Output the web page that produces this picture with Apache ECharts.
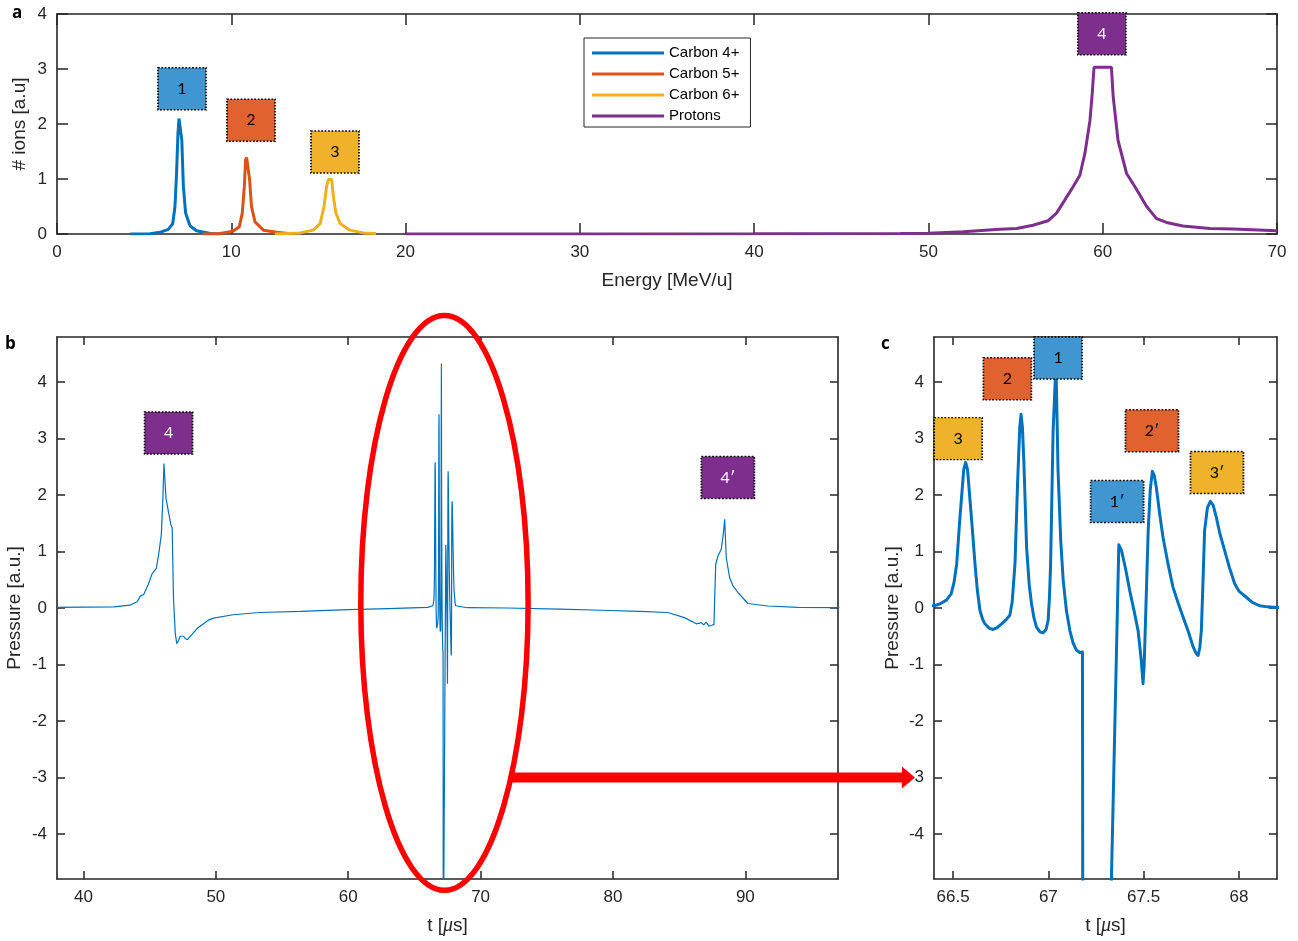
<!DOCTYPE html>
<html><head><meta charset="utf-8">
<script src="https://cdn.jsdelivr.net/npm/echarts@6/dist/echarts.min.js"></script>
<style>html,body{margin:0;padding:0;background:#fff}#c{width:1298px;height:941px}</style>
</head><body><div id="c"></div>
<script>
// ---------- Panel a: ion spectra ----------
const c4Energy = [4.2, 5.35, 5.9, 6.39, 6.64, 6.77, 6.86, 6.94, 7.0, 7.1, 7.16, 7.25, 7.38, 7.63, 8.0, 8.8, 9.4];
const c4Counts = [0, 0.006, 0.03, 0.085, 0.19, 0.5, 1.1, 1.83, 2.1, 2.1, 1.71, 0.87, 0.38, 0.15, 0.06, 0.01, 0];
const c5Energy = [8.36, 9.35, 10.1, 10.46, 10.63, 10.75, 10.82, 10.88, 10.99, 11.05, 11.16, 11.36, 11.84, 12.6, 13.27];
const c5Counts = [0, 0.01, 0.05, 0.13, 0.38, 0.87, 1.35, 1.39, 1.38, 0.99, 0.5, 0.22, 0.07, 0.03, 0.01];
const c6Energy = [12.5, 13.94, 14.7, 15.1, 15.32, 15.47, 15.57, 15.76, 15.86, 16.0, 16.25, 16.8, 17.6, 18.3];
const c6Counts = [0, 0.02, 0.07, 0.19, 0.5, 0.87, 0.99, 0.99, 0.68, 0.38, 0.19, 0.07, 0.02, 0.01];
const pEnergy = [20, 30, 40, 48.4, 50, 52, 54.1, 55.06, 56.0, 56.86, 57.35, 57.83, 58.3, 58.69, 58.98, 59.27, 59.4, 59.5, 60.5, 60.6, 60.88, 61.37, 61.85, 62.52, 63.09, 63.66, 64.6, 66.15, 67.5, 70];
const pCounts = [0, 0.002, 0.005, 0.01, 0.015, 0.04, 0.085, 0.1, 0.16, 0.24, 0.38, 0.62, 0.86, 1.07, 1.47, 2.07, 2.56, 3.03, 3.03, 2.5, 1.7, 1.1, 0.86, 0.5, 0.28, 0.21, 0.145, 0.1, 0.09, 0.06];
const seriesNames = ['Carbon 4+', 'Carbon 5+', 'Carbon 6+', 'Protons'];
const energyTickVals = [0, 10, 20, 30, 40, 50, 60, 70];
const ionTickVals = [0, 1, 2, 3, 4];

// ---------- Panels b and c: pressure trace ----------
const timeUs = [38.0, 40.0, 42.3, 43.5, 44.05, 44.3, 44.55, 44.9, 45.17, 45.5, 45.68, 45.88, 46.0, 46.08, 46.23, 46.43, 46.6, 46.7, 46.8, 46.93, 47.05, 47.18, 47.3, 47.43, 47.55, 47.68, 47.85, 48.0, 48.3, 48.6, 48.94, 49.4, 49.82, 51.3, 53.3, 56.4, 60.0, 63.0, 66.0,
  66.40, 66.43, 66.465, 66.49, 66.505, 66.519, 66.535, 66.556, 66.566, 66.576, 66.60, 66.615, 66.628, 66.641, 66.655, 66.667, 66.69, 66.71, 66.73, 66.755, 66.78, 66.798, 66.81, 66.825, 66.839, 66.85, 66.857, 66.864, 66.872, 66.886, 66.90, 66.912, 66.925, 66.938, 66.955, 66.973, 66.988, 66.999, 67.006, 67.012, 67.025, 67.04, 67.051, 67.065, 67.078, 67.095, 67.113, 67.13, 67.148, 67.165, 67.179,
  67.181, 67.32, 67.37, 67.377, 67.384, 67.405, 67.427, 67.45, 67.471, 67.487, 67.497, 67.503, 67.512, 67.524, 67.535, 67.546, 67.556, 67.567, 67.585, 67.602, 67.63, 67.654, 67.68, 67.707, 67.735, 67.76, 67.775, 67.786, 67.795, 67.803, 67.812, 67.82, 67.835, 67.85, 67.865, 67.882, 67.90, 67.925, 67.95, 67.978, 68.0, 68.039, 68.07, 68.109, 68.15, 68.196,
  69.0, 72.0, 76.0, 79.1, 82.0, 84.15, 85.4, 86.3, 86.67, 86.85, 87.05, 87.25, 87.43, 87.63, 87.76, 87.93, 88.05, 88.18, 88.33, 88.44, 88.56, 88.81, 89.07, 89.45, 90.2, 91.7, 94.0, 97.1];
const pressure = [0.01, 0.015, 0.02, 0.05, 0.11, 0.21, 0.24, 0.42, 0.6, 0.7, 0.95, 1.3, 1.95, 2.56, 1.95, 1.69, 1.48, 1.42, 0.18, -0.44, -0.63, -0.58, -0.5, -0.53, -0.5, -0.54, -0.56, -0.55, -0.44, -0.36, -0.3, -0.22, -0.18, -0.12, -0.08, -0.06, -0.03, -0.01, 0.01,
  0.04, 0.07, 0.14, 0.25, 0.45, 0.78, 1.55, 2.45, 2.58, 2.45, 1.45, 0.78, 0.3, -0.04, -0.2, -0.28, -0.36, -0.38, -0.35, -0.28, -0.2, -0.13, 0.1, 0.78, 2.25, 3.2, 3.43, 3.2, 2.55, 1.07, 0.4, 0.07, -0.18, -0.34, -0.42, -0.44, -0.38, -0.22, 0.2, 0.78, 3.14, 4.33, 2.43, 1.2, 0.49, -0.05, -0.40, -0.62, -0.75, -0.79, -0.78,
  -6.5, -6.5, 1.12, 1.1, 1.02, 0.7, 0.31, -0.05, -0.40, -0.9, -1.34, -1.0, 0.0, 1.37, 2.1, 2.42, 2.35, 2.13, 1.65, 1.25, 0.75, 0.37, 0.1, -0.16, -0.42, -0.69, -0.8, -0.84, -0.7, -0.40, 0.5, 1.37, 1.78, 1.89, 1.82, 1.60, 1.32, 1.02, 0.72, 0.43, 0.3, 0.19, 0.1, 0.04, 0.02, 0.01,
  0.005, 0.0, -0.02, -0.04, -0.06, -0.08, -0.17, -0.28, -0.26, -0.3, -0.25, -0.32, -0.31, -0.29, 0.77, 0.92, 0.98, 1.04, 1.30, 1.57, 0.89, 0.54, 0.39, 0.27, 0.08, 0.035, 0.01, 0.005];
const timeTicksB = [40, 50, 60, 70, 80, 90];
const timeTicksC = [66.5, 67, 67.5, 68];
const pressureTicks = [-4, -3, -2, -1, 0, 1, 2, 3, 4];

// ---------- Annotation labels (anchored in data units) ----------
const boxNamesA = ['1', '2', '3', '4'];
const boxEnergyA = [7.17, 11.13, 15.95, 59.95];
const boxIonsA = [2.64, 2.07, 1.49, 3.64];
const boxNamesB = ['4', '4\u2032'];
const boxTimeB = [46.43, 88.68];
const boxPressB = [3.10, 2.31];
const boxNamesC = ['3', '2', '1', '1\u2032', '2\u2032', '3\u2032'];
const boxTimeC = [66.527, 66.785, 67.051, 67.361, 67.544, 67.885];
const boxPressC = [3.0, 4.06, 4.43, 1.885, 3.14, 2.40];

const lineColors = ['#0072bd', '#d95319', '#edb120', '#7e2f8e'];
const boxColor = {'1': '#3f96d1', '2': '#e0632f', '3': '#efb22a', '4': '#7e2f8e'};

const pairs = (xs, ys) => xs.map((x, i) => [x, ys[i]]);
const AX = '#262626';
const FONT = 'Liberation Sans';

function axis(pos, gridIndex, min, max, ticks, showLabel, extra) {
  const a = {
    type: 'value', gridIndex, position: pos, min, max,
    axisLine: { show: true, onZero: false, lineStyle: { color: AX, width: 1.6 } },
    axisTick: { show: true, inside: true, length: gridIndex === 0 ? 11 : 8, customValues: ticks, lineStyle: { color: AX, width: 1.5 } },
    axisLabel: { show: showLabel, customValues: ticks, color: AX, fontSize: 17, fontFamily: FONT, margin: 10 },
    splitLine: { show: false },
    nameMoveOverlap: false
  };
  return Object.assign(a, extra || {});
}

function boxSeries(names, xs, ys, xi, yi) {
  return {
    type: 'scatter', xAxisIndex: xi, yAxisIndex: yi, z: 10, silent: true,
    symbol: 'rect',
    data: names.map((n, i) => ({
      name: n, value: [xs[i], ys[i]],
      symbolSize: n.length > 1 ? [53, 42] : [48, 42],
      itemStyle: { color: boxColor[n[0]], opacity: 1, borderColor: '#000', borderWidth: 1.6, borderType: 'dotted' },
      label: { color: n[0] === '4' ? '#fff' : '#000' }
    })),
    itemStyle: { opacity: 1 },
    label: { show: true, position: 'inside', formatter: '{b}', fontSize: 16, fontFamily: 'Lato' }
  };
}

const nameStyle = { color: AX, fontSize: 19, fontFamily: FONT, rich: { i: { fontStyle: 'italic', fontFamily: 'Liberation Serif', fontSize: 20, color: AX } } };

const chart = echarts.init(document.getElementById('c'), null, { renderer: 'canvas' });
const option = {
  animation: false,
  backgroundColor: '#fff',
  grid: [
    { left: 57, top: 14, width: 1220, height: 220, containLabel: false, outerBoundsMode: 'none' },
    { left: 57, top: 337, width: 781, height: 542, containLabel: false, outerBoundsMode: 'none' },
    { left: 934, top: 337, width: 343, height: 542, containLabel: false, outerBoundsMode: 'none' }
  ],
  xAxis: [
    axis('bottom', 0, 0, 70, energyTickVals, true, { name: 'Energy [MeV/u]', nameLocation: 'middle', nameGap: 37, nameTextStyle: nameStyle }),
    axis('top', 0, 0, 70, energyTickVals, false),
    axis('bottom', 1, 38, 97, timeTicksB, true, { name: 't [{i|\u03bc}s]', nameLocation: 'middle', nameGap: 37, nameTextStyle: nameStyle }),
    axis('top', 1, 38, 97, timeTicksB, false),
    axis('bottom', 2, 66.4, 68.2, timeTicksC, true, { name: 't [{i|\u03bc}s]', nameLocation: 'middle', nameGap: 37, nameTextStyle: nameStyle }),
    axis('top', 2, 66.4, 68.2, timeTicksC, false)
  ],
  yAxis: [
    axis('left', 0, 0, 4, ionTickVals, true, { name: '# ions [a.u]', nameLocation: 'middle', nameGap: 28, nameTextStyle: nameStyle }),
    axis('right', 0, 0, 4, ionTickVals, false),
    axis('left', 1, -4.8, 4.8, pressureTicks, true, { name: 'Pressure [a.u.]', nameLocation: 'middle', nameGap: 33, nameTextStyle: nameStyle }),
    axis('right', 1, -4.8, 4.8, pressureTicks, false),
    axis('left', 2, -4.8, 4.8, pressureTicks, true, { name: 'Pressure [a.u.]', nameLocation: 'middle', nameGap: 32, nameTextStyle: nameStyle }),
    axis('right', 2, -4.8, 4.8, pressureTicks, false)
  ],
  legend: {
    data: seriesNames.map(n => ({ name: n, icon: 'rect' })), orient: 'vertical', left: 584, top: 38,
    itemWidth: 72, itemHeight: 3, itemGap: 5, padding: [7, 11, 3, 8],
    borderColor: AX, borderWidth: 1, backgroundColor: '#fff',
    textStyle: { fontSize: 15, fontFamily: FONT, color: '#000', lineHeight: 16 }
  },
  series: [
    { name: seriesNames[0], type: 'line', xAxisIndex: 0, yAxisIndex: 0, symbol: 'none', data: pairs(c4Energy, c4Counts), lineStyle: { color: lineColors[0], width: 3 }, itemStyle: { color: lineColors[0] } },
    { name: seriesNames[1], type: 'line', xAxisIndex: 0, yAxisIndex: 0, symbol: 'none', data: pairs(c5Energy, c5Counts), lineStyle: { color: lineColors[1], width: 3 }, itemStyle: { color: lineColors[1] } },
    { name: seriesNames[2], type: 'line', xAxisIndex: 0, yAxisIndex: 0, symbol: 'none', data: pairs(c6Energy, c6Counts), lineStyle: { color: lineColors[2], width: 3 }, itemStyle: { color: lineColors[2] } },
    { name: seriesNames[3], type: 'line', xAxisIndex: 0, yAxisIndex: 0, symbol: 'none', data: pairs(pEnergy, pCounts), lineStyle: { color: lineColors[3], width: 3 }, itemStyle: { color: lineColors[3] } },
    { name: 'trace b', type: 'line', xAxisIndex: 2, yAxisIndex: 2, symbol: 'none', clip: true, data: pairs(timeUs, pressure), lineStyle: { color: '#0072bd', width: 1.2 } },
    { name: 'trace c', type: 'line', xAxisIndex: 4, yAxisIndex: 4, symbol: 'none', clip: true, data: pairs(timeUs, pressure), lineStyle: { color: '#0072bd', width: 3, join: 'round' } },
    boxSeries(boxNamesA, boxEnergyA, boxIonsA, 0, 0),
    boxSeries(boxNamesB, boxTimeB, boxPressB, 2, 2),
    boxSeries(boxNamesC, boxTimeC, boxPressC, 4, 4)
  ],
  graphic: [
    { type: 'text', left: 12, top: 5, style: { text: 'a', font: 'bold 17px "Open Sans"', fill: '#000' } },
    { type: 'text', left: 5, top: 336, style: { text: 'b', font: 'bold 17px "Open Sans"', fill: '#000' } },
    { type: 'text', left: 881, top: 336, style: { text: 'c', font: 'bold 17px "Open Sans"', fill: '#000' } }
  ]
};
chart.setOption(option);

// Highlight ellipse around the central burst (panel b) and arrow to panel c, placed in data units
const ellipseCenter = [67.27, 0.09];
const ellipseRadii = [6.32, 5.09];
const arrowStart = [72.3, -3];
const arrowTipC = [66.30, -3];
const ctr = chart.convertToPixel({ xAxisIndex: 2, yAxisIndex: 2 }, ellipseCenter);
const edg = chart.convertToPixel({ xAxisIndex: 2, yAxisIndex: 2 }, [ellipseCenter[0] + ellipseRadii[0], ellipseCenter[1] + ellipseRadii[1]]);
const p0 = chart.convertToPixel({ xAxisIndex: 2, yAxisIndex: 2 }, arrowStart);
const p1 = chart.convertToPixel({ xAxisIndex: 4, yAxisIndex: 4 }, arrowTipC);
const hw = 5, hl = 13, hh = 11;
chart.setOption({
  graphic: option.graphic.concat([
    { type: 'ellipse', z: 20, shape: { cx: ctr[0], cy: ctr[1], rx: edg[0] - ctr[0], ry: ctr[1] - edg[1] }, style: { fill: 'none', stroke: '#ff0000', lineWidth: 5.5 } },
    { type: 'polygon', z: 20, shape: { points: [[p0[0], p0[1] - hw], [p1[0] - hl, p1[1] - hw], [p1[0] - hl, p1[1] - hh], [p1[0], p1[1]], [p1[0] - hl, p1[1] + hh], [p1[0] - hl, p1[1] + hw], [p0[0], p0[1] + hw]] }, style: { fill: '#ff0000' } }
  ])
});
</script></body></html>
